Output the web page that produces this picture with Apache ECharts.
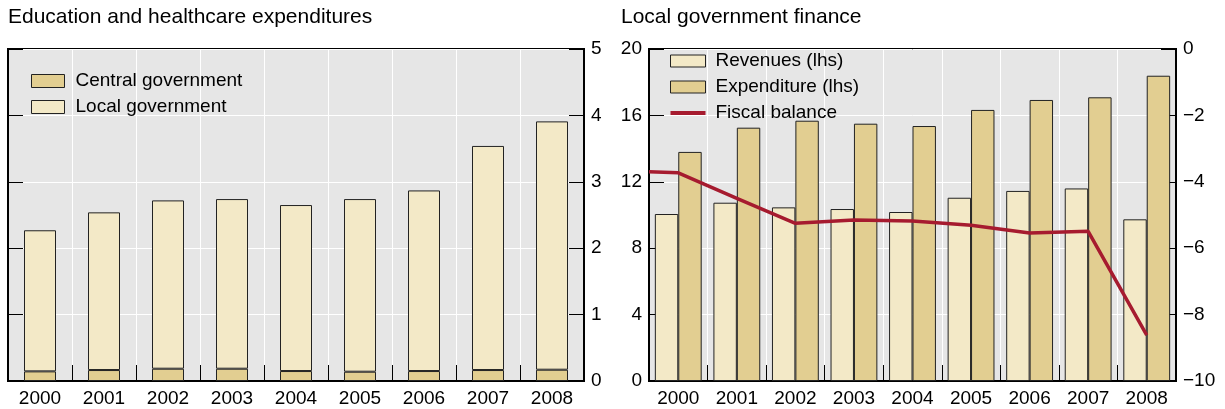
<!DOCTYPE html>
<html>
<head>
<meta charset="utf-8">
<script src="https://cdn.jsdelivr.net/npm/echarts@6/dist/echarts.min.js"></script>
<style>
html,body{margin:0;padding:0;background:#fff;}
#c{width:1225px;height:409px;}
</style>
</head>
<body>
<div id="c"></div>
<script>
// ---- data ----
var years = ['2000','2001','2002','2003','2004','2005','2006','2007','2008'];
// Left panel: education and healthcare expenditures
var centralGov = [0.145, 0.165, 0.185, 0.185, 0.15, 0.14, 0.15, 0.165, 0.17];
var localGov   = [2.125, 2.375, 2.535, 2.555, 2.50, 2.60, 2.72, 3.375, 3.74];
var leftTicks = [0, 1, 2, 3, 4, 5];
// Right panel: local government finance
var revenues    = [10.06, 10.74, 10.46, 10.36, 10.18, 11.04, 11.45, 11.60, 9.74];
var expenditure = [13.80, 15.26, 15.68, 15.50, 15.36, 16.33, 16.93, 17.09, 18.39];
// fiscal balance: position (category index, -0.5 = left edge of panel) and value
var balanceX = [-0.5, 0, 1, 2, 3, 4, 5, 6, 7, 8];
var balanceY = [-3.70, -3.73, -4.50, -5.25, -5.15, -5.18, -5.31, -5.54, -5.49, -8.62];
var lhsTicks = [0, 4, 8, 12, 16, 20];
var rhsTicks = [-10, -8, -6, -4, -2, 0];

var LIGHT = '#f3e9c7', DARK = '#e2ce91', RED = '#a61b2f', BG = '#e6e6e6';
var FONT = 'Liberation Sans, Arial, sans-serif';
var labelStyle = {color:'#000', fontSize:19, fontFamily:FONT};

var chart = echarts.init(document.getElementById('c'), null, {renderer:'canvas'});

var gridCommon = {show:true, backgroundColor:BG, borderColor:'#000', borderWidth:2, top:49, bottom:28};

function catAxis(gridIndex){
  return {
    type:'category', gridIndex:gridIndex, data:years, boundaryGap:true,
    axisLine:{show:true, onZero:false, lineStyle:{color:'#000', width:2}},
    axisTick:{show:true, inside:true, length:16, lineStyle:{color:'#000', width:1}},
    axisLabel:Object.assign({margin:8}, labelStyle),
    splitLine:{show:true, lineStyle:{color:'#fff', width:1}}
  };
}
function valAxis(gridIndex, pos, min, max, interval, showLabel, showSplit, fmt){
  return {
    type:'value', gridIndex:gridIndex, position:pos, min:min, max:max, interval:interval,
    axisLine:{show:true, onZero:false, lineStyle:{color:'#000', width:2}},
    axisTick:{show:true, inside:true, length:15, lineStyle:{color:'#000', width:1}},
    axisLabel:Object.assign({show:showLabel, margin:7, formatter:fmt}, labelStyle),
    splitLine:{show:showSplit, lineStyle:{color:'#fff', width:1}}
  };
}
function minusFmt(v){ return (v < 0 ? '\u2212' + Math.abs(v) : String(v)); }

var option = {
  animation:false,
  textStyle:{fontFamily:FONT},
  title:[
    {text:'Education and healthcare expenditures', left:8, top:7, padding:0,
     textStyle:{fontSize:21, fontWeight:'normal', color:'#000', fontFamily:FONT}},
    {text:'Local government finance', left:621, top:7, padding:0,
     textStyle:{fontSize:21, fontWeight:'normal', color:'#000', fontFamily:FONT}}
  ],
  legend:[
    {left:31, top:71, orient:'vertical', itemWidth:33, itemHeight:13, itemGap:6,
     padding:0, selectedMode:false,
     textStyle:Object.assign({lineHeight:20, padding:[0,0,0,6]}, labelStyle),
     data:[
       {name:'Central government', icon:'rect', itemStyle:{color:DARK, borderColor:'#222', borderWidth:1}},
       {name:'Local government', icon:'rect', itemStyle:{color:LIGHT, borderColor:'#222', borderWidth:1}}
     ]},
    {left:670, top:51, orient:'vertical', itemWidth:35, itemHeight:12, itemGap:6,
     padding:0, selectedMode:false,
     textStyle:Object.assign({lineHeight:20, padding:[0,0,0,5]}, labelStyle),
     data:[
       {name:'Revenues (lhs)', icon:'rect', itemStyle:{color:LIGHT, borderColor:'#222', borderWidth:1}},
       {name:'Expenditure (lhs)', icon:'rect', itemStyle:{color:DARK, borderColor:'#222', borderWidth:1}},
       {name:'Fiscal balance', icon:'path://M0,0 L35,0 L35,4 L0,4 Z', itemStyle:{color:RED, borderWidth:0}}
     ]}
  ],
  grid:[
    Object.assign({left:8, right:641}, gridCommon),
    Object.assign({left:649, right:49}, gridCommon)
  ],
  xAxis:[
    catAxis(0),
    catAxis(1),
    {type:'value', gridIndex:1, min:-0.5, max:8.5, show:false,
     axisLine:{show:false, onZero:false}, splitLine:{show:false}, axisTick:{show:false}, axisLabel:{show:false}}
  ],
  yAxis:[
    valAxis(0, 'right', 0, 5, 1, true, true),
    valAxis(0, 'left', 0, 5, 1, false, false),
    valAxis(1, 'left', 0, 20, 4, true, true),
    valAxis(1, 'right', -10, 0, 2, true, false, minusFmt)
  ],
  series:[
    {name:'Central government', type:'bar', xAxisIndex:0, yAxisIndex:0, stack:'edu',
     barWidth:'50%', data:centralGov,
     itemStyle:{color:DARK, borderColor:'#222', borderWidth:1}},
    {name:'Local government', type:'bar', xAxisIndex:0, yAxisIndex:0, stack:'edu',
     barWidth:'50%', data:localGov,
     itemStyle:{color:LIGHT, borderColor:'#222', borderWidth:1}},
    {name:'Revenues (lhs)', type:'bar', xAxisIndex:1, yAxisIndex:2,
     barCategoryGap:'20%', barGap:'0%', data:revenues,
     itemStyle:{color:LIGHT, borderColor:'#222', borderWidth:1}},
    {name:'Expenditure (lhs)', type:'bar', xAxisIndex:1, yAxisIndex:2,
     barCategoryGap:'20%', barGap:'0%', data:expenditure,
     itemStyle:{color:DARK, borderColor:'#222', borderWidth:1}},
    {name:'Fiscal balance', type:'line', xAxisIndex:2, yAxisIndex:3,
     symbol:'none', showSymbol:false, z:5,
     data:balanceX.map(function(x,i){return [x, balanceY[i]];}),
     lineStyle:{color:RED, width:3.5}, itemStyle:{color:RED}}
  ]
};
chart.setOption(option);
</script>
</body>
</html>
